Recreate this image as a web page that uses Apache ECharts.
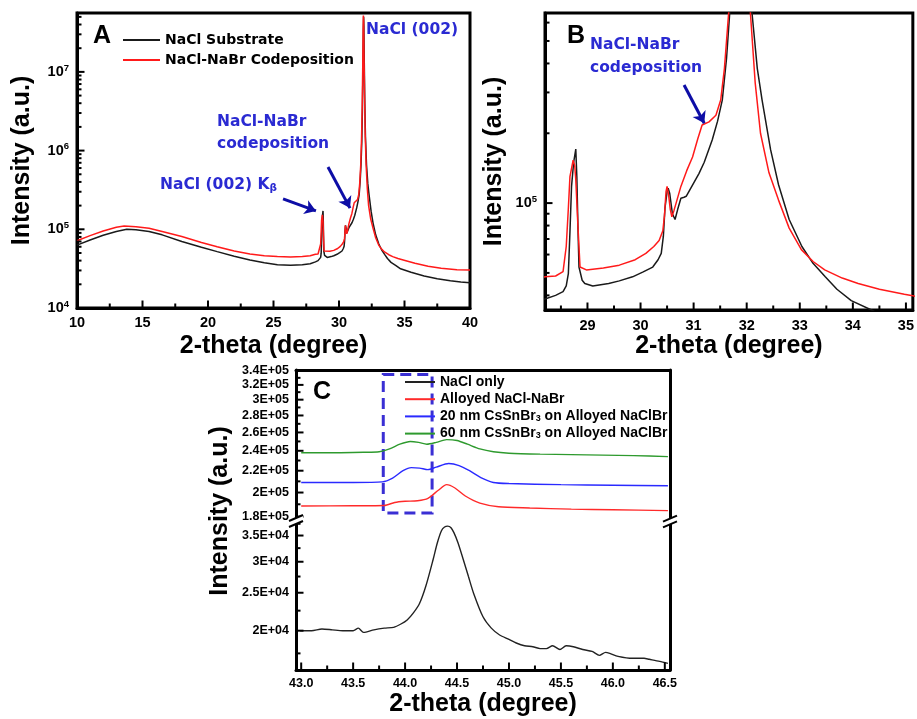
<!DOCTYPE html>
<html>
<head>
<meta charset="utf-8">
<script src="https://cdn.jsdelivr.net/npm/echarts@6/dist/echarts.min.js"></script>
<style>
  html, body { margin: 0; padding: 0; background: #fff; }
  #chart { width: 917px; height: 719px; }
</style>
</head>
<body>
<div id="chart"></div>
<script>
// ---- XRD scans: NaCl substrate vs. NaCl-NaBr codeposition (panels A and B share these) ----
const substrateTheta = [10.0, 11.0, 12.0, 13.0, 13.8, 14.5, 15.5, 16.5, 18.0, 19.5,
  20.7, 22.0, 23.2, 24.3, 25.3, 26.3, 27.2, 27.8, 28.2, 28.4,
  28.54, 28.6, 28.64, 28.67, 28.70, 28.74, 28.78, 28.80, 28.82, 28.84,
  28.9, 28.95, 29.1, 29.25, 29.4, 29.6, 29.85, 30.05, 30.23, 30.33,
  30.39, 30.43, 30.46, 30.50, 30.52, 30.55, 30.60, 30.65, 30.70, 30.76,
  30.82, 30.86, 31.0, 31.1, 31.2, 31.35, 31.45, 31.54, 31.62, 31.68,
  31.74, 31.79, 31.83, 31.86, 31.88, 31.90, 31.93, 31.97, 32.02, 32.10,
  32.20, 32.29, 32.45, 32.6, 32.8, 33.04, 33.25, 33.48, 33.7, 33.97,
  34.35, 34.7, 35.5, 36.5, 37.5, 38.5, 39.3, 40.0];
const substrateCounts = [6.3e4, 7.3e4, 8.4e4, 9.4e4, 1.0e5, 9.9e4, 9.4e4, 8.5e4, 7.0e4, 5.9e4,
  5.2e4, 4.55e4, 4.07e4, 3.75e4, 3.55e4, 3.5e4, 3.55e4, 3.65e4, 3.86e4, 4.0e4,
  4.15e4, 4.4e4, 4.97e4, 7.5e4, 1.18e5, 1.5e5, 1.71e5, 1.3e5, 8.0e4, 5.3e4,
  4.65e4, 4.5e4, 4.39e4, 4.45e4, 4.5e4, 4.62e4, 4.81e4, 5.05e4, 5.3e4, 5.7e4,
  6.07e4, 7.2e4, 9.5e4, 1.12e5, 1.16e5, 1.1e5, 9.0e4, 8.5e4, 9.4e4, 1.05e5,
  1.06e5, 1.07e5, 1.22e5, 1.34e5, 1.5e5, 1.87e5, 2.25e5, 2.78e5, 4.2e5, 6.6e5,
  1.3e6, 3.5e6, 1.2e7, 3.5e7, 5.0e7, 3.8e7, 1.3e7, 4.0e6, 1.5e6, 6.6e5,
  3.8e5, 2.78e5, 1.7e5, 1.2e5, 8.5e4, 6.5e4, 5.5e4, 4.81e4, 4.25e4, 3.8e4,
  3.46e4, 3.15e4, 2.85e4, 2.55e4, 2.35e4, 2.22e4, 2.14e4, 2.1e4];

const codepTheta = [10.0, 11.0, 12.0, 13.0, 13.6, 14.5, 15.5, 16.5, 18.0, 19.5,
  20.7, 22.0, 23.2, 24.3, 25.3, 26.3, 27.2, 27.8, 28.2, 28.4,
  28.54, 28.60, 28.64, 28.67, 28.73, 28.76, 28.78, 28.82, 28.86, 28.98,
  29.3, 29.6, 29.9, 30.1, 30.25, 30.35, 30.42, 30.45, 30.48, 30.50,
  30.53, 30.56, 30.59, 30.63, 30.67, 30.76, 30.87, 30.98, 31.08, 31.16,
  31.29, 31.42, 31.51, 31.58, 31.66, 31.72, 31.77, 31.81, 31.84, 31.86,
  31.88, 31.91, 31.95, 32.0, 32.07, 32.16, 32.26, 32.42, 32.6, 32.8,
  33.03, 33.25, 33.47, 33.8, 34.1, 34.5, 34.97, 35.1, 35.8, 36.8,
  37.8, 39.0, 40.0];
const codepCounts = [7.16e4, 8.3e4, 9.5e4, 1.06e5, 1.1e5, 1.08e5, 1.03e5, 9.4e4, 8.1e4, 6.8e4,
  6.0e4, 5.3e4, 4.85e4, 4.6e4, 4.5e4, 4.45e4, 4.5e4, 4.6e4, 4.81e4, 4.85e4,
  5.06e4, 6.5e4, 9.5e4, 1.3e5, 1.53e5, 1.45e5, 1.26e5, 8.0e4, 5.3e4, 5.15e4,
  5.25e4, 5.4e4, 5.7e4, 6.07e4, 6.5e4, 6.9e4, 7.6e4, 8.8e4, 1.12e5, 1.18e5,
  1.08e5, 9.4e4, 8.73e4, 9.3e4, 1.0e5, 1.18e5, 1.38e5, 1.58e5, 1.9e5, 2.17e5,
  2.24e5, 2.39e5, 2.78e5, 3.8e5, 6.6e5, 1.4e6, 3.5e6, 1.1e7, 3.2e7, 5.2e7,
  4.5e7, 1.6e7, 5.0e6, 1.6e6, 6.6e5, 3.3e5, 2.0e5, 1.35e5, 1.03e5, 7.8e4,
  6.3e4, 5.6e4, 5.15e4, 4.75e4, 4.5e4, 4.25e4, 4.05e4, 4.0e4, 3.7e4, 3.4e4,
  3.2e4, 3.06e4, 3.05e4];

// ---- Panel C: (002) region of the NaCl / NaCl-NaBr / CsSnBr3 stacks ----
const naclOnlyTheta = [42.99, 43.1, 43.2, 43.3, 43.4, 43.5, 43.55, 43.6, 43.7, 43.8,
  43.89, 43.96, 44.02, 44.08, 44.14, 44.2, 44.27, 44.31, 44.35, 44.38, 44.41, 44.44, 44.47,
  44.51, 44.56, 44.61, 44.66, 44.75, 44.83, 44.91, 45.0, 45.07, 45.15,
  45.23, 45.3, 45.36, 45.42, 45.49, 45.55, 45.62, 45.71, 45.8, 45.87,
  45.93, 45.97, 46.05, 46.19, 46.3, 46.35, 46.45, 46.53];
const naclOnlyCounts = [2.0e4, 2.0e4, 2.02e4, 2.01e4, 2.0e4, 2.0e4, 2.03e4, 1.98e4, 2.01e4, 2.03e4,
  2.04e4, 2.08e4, 2.13e4, 2.22e4, 2.35e4, 2.6e4, 3.04e4, 3.35e4, 3.6e4, 3.68e4, 3.70e4, 3.67e4, 3.56e4,
  3.35e4, 3.04e4, 2.75e4, 2.49e4, 2.17e4, 2.03e4, 1.95e4, 1.9e4, 1.86e4, 1.83e4,
  1.82e4, 1.8e4, 1.8e4, 1.83e4, 1.79e4, 1.83e4, 1.82e4, 1.79e4, 1.77e4, 1.73e4,
  1.76e4, 1.75e4, 1.72e4, 1.70e4, 1.70e4, 1.69e4, 1.67e4, 1.65e4];

const alloyedTheta = [43.0, 43.5, 43.8, 43.9, 44.0, 44.12, 44.22, 44.32, 44.4, 44.48,
  44.58, 44.72, 44.9, 45.2, 45.6, 46.0, 46.53];
const alloyedCounts = [1.886e5, 1.888e5, 1.89e5, 1.915e5, 1.925e5, 1.93e5, 1.95e5, 2.02e5, 2.07e5, 2.04e5,
  1.97e5, 1.91e5, 1.88e5, 1.87e5, 1.86e5, 1.855e5, 1.848e5];

const cs20Theta = [43.0, 43.5, 43.78, 43.88, 43.98, 44.06, 44.14, 44.22, 44.3, 44.42,
  44.52, 44.62, 44.74, 44.85, 45.0, 45.5, 46.0, 46.53];
const cs20Counts = [2.09e5, 2.09e5, 2.095e5, 2.13e5, 2.2e5, 2.23e5, 2.225e5, 2.21e5, 2.235e5, 2.27e5,
  2.25e5, 2.2e5, 2.13e5, 2.09e5, 2.08e5, 2.07e5, 2.065e5, 2.06e5];

const cs60Theta = [43.0, 43.3, 43.6, 43.75, 43.85, 43.95, 44.05, 44.13, 44.21, 44.3,
  44.4, 44.5, 44.6, 44.72, 44.85, 45.0, 45.3, 45.6, 45.9, 46.2, 46.53];
const cs60Counts = [2.38e5, 2.38e5, 2.385e5, 2.39e5, 2.42e5, 2.47e5, 2.50e5, 2.49e5, 2.47e5, 2.49e5,
  2.52e5, 2.51e5, 2.47e5, 2.42e5, 2.39e5, 2.375e5, 2.365e5, 2.36e5, 2.355e5, 2.35e5, 2.34e5];

// ---- tick values ----
const aThetaTicks = [10, 15, 20, 25, 30, 35, 40];
const aThetaMinor = [12.5, 17.5, 22.5, 27.5, 32.5, 37.5];
const aLogTicks = [1e4, 1e5, 1e6, 1e7];
const bThetaTicks = [29, 30, 31, 32, 33, 34, 35];
const bThetaMinor = [28.5, 29.5, 30.5, 31.5, 32.5, 33.5, 34.5];
const bLogTicks = [1e5];
const cThetaTicks = [43.0, 43.5, 44.0, 44.5, 45.0, 45.5, 46.0, 46.5];
const cThetaMinor = [43.25, 43.75, 44.25, 44.75, 45.25, 45.75, 46.25];
const cUpperTicks = [1.8e5, 2.0e5, 2.2e5, 2.4e5, 2.6e5, 2.8e5, 3.0e5, 3.2e5, 3.4e5];
const cUpperMinor = [1.9e5, 2.1e5, 2.3e5, 2.5e5, 2.7e5, 2.9e5, 3.1e5, 3.3e5];
const cLowerTicks = [2.0e4, 2.5e4, 3.0e4, 3.5e4];
const cLowerMinor = [1.75e4, 2.25e4, 2.75e4, 3.25e4, 3.75e4];

// log minor ticks (2..9 within each decade) inside a range
function logMinor(lo, hi) {
  const out = [];
  for (let e = Math.floor(Math.log10(lo)); e <= Math.ceil(Math.log10(hi)); e++) {
    for (let k = 2; k <= 9; k++) {
      const v = k * Math.pow(10, e);
      if (v > lo && v < hi) out.push(v);
    }
  }
  return out;
}

const zip = (xs, ys) => xs.map((x, i) => [x, ys[i]]);

const FT = '"Liberation Sans", Arial, Helvetica, sans-serif';
const FD = '"DejaVu Sans", sans-serif';
const BLUE_TXT = '#2a2ad2';
const ARROW = '#0d0da6';

const A_X = [10, 40];
const A_Y = [1e4, 5.6e7];
const B_X = [28.2, 35.13];
const B_Y = [3.46e4, 6.6e5];
const C_X = [42.95, 46.55];
const C_UP = [1.774e5, 3.415e5];
const C_LO = [1.587e4, 3.79e4];

const frameLine = { show: true, onZero: false, lineStyle: { color: '#000', width: 3 } };
const noTick = { show: false };

function supLabel(v) {
  const e = Math.round(Math.log10(v));
  return '{b|10}{s|' + e + '}';
}
const supRich = {
  b: { fontFamily: FT, fontWeight: 'bold', fontSize: 14.5, color: '#000' },
  s: { fontFamily: FT, fontWeight: 'bold', fontSize: 9.5, color: '#000', padding: [0, 0, 8, 0] }
};
const cLabel = v => {
  const e = Math.floor(Math.log10(v) + 1e-9);
  const m = v / Math.pow(10, e);
  const ms = Math.abs(m - Math.round(m)) < 1e-9 ? String(Math.round(m)) : m.toFixed(1);
  return ms + 'E+0' + e;
};

const titleFont = { fontFamily: FT, fontWeight: 'bold', fontSize: 25, color: '#000' };
const tickFont = { fontFamily: FT, fontWeight: 'bold', fontSize: 14.5, color: '#000' };
const cTickFont = { fontFamily: FT, fontWeight: 'bold', fontSize: 12.5, color: '#000' };

// fixed decorations: panel letters, peak annotations, axis-break marks
const decorations = [
  { type: 'text', x: 93, y: 36, style: { text: 'A', font: 'bold 25px ' + FT, fill: '#000', textVerticalAlign: 'middle' } },
  { type: 'text', x: 567, y: 36, style: { text: 'B', font: 'bold 25px ' + FT, fill: '#000', textVerticalAlign: 'middle' } },
  { type: 'text', x: 313, y: 392, style: { text: 'C', font: 'bold 25px ' + FT, fill: '#000', textVerticalAlign: 'middle' } },
  { type: 'text', x: 366, y: 30, style: { text: 'NaCl (002)', font: 'bold 15.5px ' + FD, fill: BLUE_TXT, textVerticalAlign: 'middle' } },
  { type: 'text', x: 217, y: 122, style: { text: 'NaCl-NaBr', font: 'bold 15.5px ' + FD, fill: BLUE_TXT, textVerticalAlign: 'middle' } },
  { type: 'text', x: 217, y: 144, style: { text: 'codeposition', font: 'bold 15.5px ' + FD, fill: BLUE_TXT, textVerticalAlign: 'middle' } },
  { type: 'text', x: 160, y: 185, style: {
      text: '{n|NaCl (002) K}{s|β}', textVerticalAlign: 'middle',
      rich: {
        n: { fontFamily: FD, fontWeight: 'bold', fontSize: 15.5, fill: BLUE_TXT },
        s: { fontFamily: FD, fontWeight: 'bold', fontSize: 10.5, fill: BLUE_TXT, padding: [7, 0, 0, 0] }
      } } },
  { type: 'text', x: 590, y: 45, style: { text: 'NaCl-NaBr', font: 'bold 15.5px ' + FD, fill: BLUE_TXT, textVerticalAlign: 'middle' } },
  { type: 'text', x: 590, y: 68, style: { text: 'codeposition', font: 'bold 15.5px ' + FD, fill: BLUE_TXT, textVerticalAlign: 'middle' } },
  { type: 'text', x: 220, y: 511, rotation: Math.PI / 2,
    style: { text: 'Intensity (a.u.)', font: 'bold 25px ' + FT, fill: '#000', textAlign: 'center', textVerticalAlign: 'middle' } },
  { type: 'polygon', shape: { points: [[289, 521], [303, 515], [303, 521], [289, 527]] }, style: { fill: '#fff' }, z: 100 },
  { type: 'line', shape: { x1: 289, y1: 521, x2: 303, y2: 515 }, style: { stroke: '#000', lineWidth: 2 }, z: 101 },
  { type: 'line', shape: { x1: 289, y1: 527, x2: 303, y2: 521 }, style: { stroke: '#000', lineWidth: 2 }, z: 101 },
  { type: 'polygon', shape: { points: [[663, 521.7], [677, 515.7], [677, 521.3], [663, 527.3]] }, style: { fill: '#fff' }, z: 100 },
  { type: 'line', shape: { x1: 663, y1: 521.7, x2: 677, y2: 515.7 }, style: { stroke: '#000', lineWidth: 2 }, z: 101 },
  { type: 'line', shape: { x1: 663, y1: 527.3, x2: 677, y2: 521.3 }, style: { stroke: '#000', lineWidth: 2 }, z: 101 }
];

const option = {
  animation: false,
  backgroundColor: '#fff',
  grid: [
    { left: 77, top: 13, width: 393, height: 295, show: true, borderColor: '#000', borderWidth: 3 },
    { left: 545, top: 13, width: 370, height: 297, show: true, borderColor: '#000', borderWidth: 3 },
    { left: 296, top: 370, width: 374, height: 150 },
    { left: 296, top: 522, width: 374, height: 148 }
  ],
  xAxis: [
    { type: 'value', gridIndex: 0, min: A_X[0], max: A_X[1], interval: 5,
      axisLine: frameLine, splitLine: { show: false }, axisTick: noTick,
      axisLabel: Object.assign({ show: true, margin: 7 }, tickFont),
      name: '2-theta (degree)', nameLocation: 'middle', nameGap: 26, nameTextStyle: titleFont },
    { type: 'value', gridIndex: 1, min: B_X[0], max: B_X[1],
      axisLine: frameLine, splitLine: { show: false }, axisTick: noTick,
      axisLabel: Object.assign({ show: true, interval: 0, customValues: bThetaTicks, margin: 8 }, tickFont),
      name: '2-theta (degree)', nameLocation: 'middle', nameGap: 24, nameTextStyle: titleFont },
    { type: 'value', gridIndex: 2, position: 'top', min: C_X[0], max: C_X[1],
      axisLine: frameLine, splitLine: { show: false }, axisLabel: { show: false }, axisTick: noTick },
    { type: 'value', gridIndex: 3, position: 'bottom', min: C_X[0], max: C_X[1],
      axisLine: frameLine, splitLine: { show: false }, axisTick: noTick,
      axisLabel: Object.assign({ show: true, interval: 0, customValues: cThetaTicks, margin: 7, formatter: v => v.toFixed(1) }, cTickFont),
      name: '2-theta (degree)', nameLocation: 'middle', nameGap: 22, nameTextStyle: titleFont }
  ],
  yAxis: [
    { type: 'log', logBase: 10, gridIndex: 0, min: A_Y[0], max: A_Y[1],
      axisLine: frameLine, splitLine: { show: false }, axisTick: noTick,
      axisLabel: { show: true, interval: 0, customValues: aLogTicks, formatter: supLabel, rich: supRich, margin: 8 },
      name: 'Intensity (a.u.)', nameLocation: 'middle', nameGap: 42, nameTextStyle: titleFont },
    { type: 'log', logBase: 10, gridIndex: 1, min: B_Y[0], max: B_Y[1],
      axisLine: frameLine, splitLine: { show: false }, axisTick: noTick,
      axisLabel: { show: true, interval: 0, customValues: bLogTicks, formatter: supLabel, rich: supRich, margin: 8 },
      name: 'Intensity (a.u.)', nameLocation: 'middle', nameGap: 38, nameTextStyle: titleFont },
    { type: 'log', logBase: 10, gridIndex: 2, position: 'left', min: C_UP[0], max: C_UP[1],
      axisLine: frameLine, splitLine: { show: false }, axisTick: noTick,
      axisLabel: Object.assign({ show: true, interval: 0, customValues: cUpperTicks, formatter: cLabel, margin: 7 }, cTickFont) },
    { type: 'log', logBase: 10, gridIndex: 2, position: 'right', min: C_UP[0], max: C_UP[1],
      axisLine: frameLine, splitLine: { show: false }, axisLabel: { show: false }, axisTick: noTick },
    { type: 'log', logBase: 10, gridIndex: 3, position: 'left', min: C_LO[0], max: C_LO[1],
      axisLine: frameLine, splitLine: { show: false }, axisTick: noTick,
      axisLabel: Object.assign({ show: true, interval: 0, customValues: cLowerTicks, formatter: cLabel, margin: 7 }, cTickFont) },
    { type: 'log', logBase: 10, gridIndex: 3, position: 'right', min: C_LO[0], max: C_LO[1],
      axisLine: frameLine, splitLine: { show: false }, axisLabel: { show: false }, axisTick: noTick }
  ],
  legend: [
    { data: ['NaCl Substrate', 'NaCl-NaBr Codeposition'], orient: 'vertical', left: 118, top: 28,
      icon: 'rect', itemWidth: 37, itemHeight: 2, itemGap: 6, selectedMode: false,
      textStyle: { fontFamily: FD, fontWeight: 'bold', fontSize: 14, color: '#000' } },
    { data: ['NaCl only', 'Alloyed NaCl-NaBr', '20 nm CsSnBr3 on Alloyed NaClBr', '60 nm CsSnBr3 on Alloyed NaClBr'],
      orient: 'vertical', left: 400, top: 370, icon: 'rect', itemWidth: 30, itemHeight: 2, itemGap: 3.2,
      selectedMode: false,
      formatter: name => name.replace('CsSnBr3', 'CsSnBr{sub|3}'),
      textStyle: { fontFamily: FT, fontWeight: 'bold', fontSize: 14, color: '#000',
        rich: { sub: { fontFamily: FT, fontWeight: 'bold', fontSize: 9, color: '#000', padding: [4, 0, 0, 0] } } } }
  ],
  series: [
    { name: 'NaCl Substrate', type: 'line', xAxisIndex: 0, yAxisIndex: 0, data: zip(substrateTheta, substrateCounts),
      showSymbol: false, symbol: 'none', color: '#1a1a1a', lineStyle: { width: 1.5, color: '#1a1a1a' },
      emphasis: { disabled: true },
      markLine: { silent: true, symbol: ['none', 'arrow'], symbolSize: 11, label: { show: false },
        emphasis: { disabled: true }, lineStyle: { color: ARROW, width: 3, type: 'solid' },
        data: [
          [{ coord: [25.73, 2.43e5] }, { coord: [28.24, 1.71e5] }],
          [{ coord: [29.16, 6.2e5] }, { coord: [30.84, 1.86e5] }]
        ] } },
    { name: 'NaCl-NaBr Codeposition', type: 'line', xAxisIndex: 0, yAxisIndex: 0, data: zip(codepTheta, codepCounts),
      showSymbol: false, symbol: 'none', color: '#ff1a1a', lineStyle: { width: 1.5, color: '#ff1a1a' },
      emphasis: { disabled: true } },
    { name: 'NaCl Substrate', type: 'line', xAxisIndex: 1, yAxisIndex: 1, data: zip(substrateTheta, substrateCounts),
      showSymbol: false, symbol: 'none', color: '#1a1a1a', lineStyle: { width: 1.5, color: '#1a1a1a' },
      emphasis: { disabled: true }, clip: true },
    { name: 'NaCl-NaBr Codeposition', type: 'line', xAxisIndex: 1, yAxisIndex: 1, data: zip(codepTheta, codepCounts),
      showSymbol: false, symbol: 'none', color: '#ff1a1a', lineStyle: { width: 1.5, color: '#ff1a1a' },
      emphasis: { disabled: true }, clip: true,
      markLine: { silent: true, symbol: ['none', 'arrow'], symbolSize: 11, label: { show: false },
        emphasis: { disabled: true }, lineStyle: { color: ARROW, width: 3, type: 'solid' },
        data: [[{ coord: [30.82, 3.23e5] }, { coord: [31.2, 2.21e5] }]] } },
    { name: 'NaCl only', type: 'line', xAxisIndex: 3, yAxisIndex: 4, data: zip(naclOnlyTheta, naclOnlyCounts),
      showSymbol: false, symbol: 'none', color: '#222', lineStyle: { width: 1.4, color: '#222' },
      smooth: 0.25, emphasis: { disabled: true } },
    { name: 'Alloyed NaCl-NaBr', type: 'line', xAxisIndex: 2, yAxisIndex: 2, data: zip(alloyedTheta, alloyedCounts),
      showSymbol: false, symbol: 'none', color: '#ff2a2a', lineStyle: { width: 1.4, color: '#ff2a2a' },
      smooth: 0.25, emphasis: { disabled: true },
      markArea: { silent: true, emphasis: { disabled: true },
        itemStyle: { color: 'rgba(0,0,0,0)', borderColor: '#3a2fd4', borderWidth: 3, borderType: [11, 6] },
        data: [[{ xAxis: 43.79, yAxis: 3.35e5 }, { xAxis: 44.26, yAxis: 1.83e5 }]] } },
    { name: '20 nm CsSnBr3 on Alloyed NaClBr', type: 'line', xAxisIndex: 2, yAxisIndex: 2, data: zip(cs20Theta, cs20Counts),
      showSymbol: false, symbol: 'none', color: '#2a2aff', lineStyle: { width: 1.4, color: '#2a2aff' },
      smooth: 0.25, emphasis: { disabled: true } },
    { name: '60 nm CsSnBr3 on Alloyed NaClBr', type: 'line', xAxisIndex: 2, yAxisIndex: 2, data: zip(cs60Theta, cs60Counts),
      showSymbol: false, symbol: 'none', color: '#2e9a2e', lineStyle: { width: 1.4, color: '#2e9a2e' },
      smooth: 0.25, emphasis: { disabled: true } }
  ],
  graphic: { elements: decorations }
};

const chart = echarts.init(document.getElementById('chart'), null, { renderer: 'canvas' });
chart.setOption(option);

// inward tick marks, placed through each axis pair's own scale
function tickLines(finder, xMin, yMin, xMajor, xMinor, yMajor, yMinor) {
  const out = [];
  const push = (v, isX, len) => {
    const p = chart.convertToPixel(finder, isX ? [v, yMin] : [xMin, v]);
    if (!p || !isFinite(p[0]) || !isFinite(p[1])) return;
    const shape = isX
      ? { x1: p[0], y1: p[1], x2: p[0], y2: p[1] - len }
      : { x1: p[0], y1: p[1], x2: p[0] + len, y2: p[1] };
    out.push({ type: 'line', shape: shape, style: { stroke: '#000', lineWidth: 2 }, z: 90, silent: true });
  };
  xMajor.forEach(v => push(v, true, 7.5));
  xMinor.forEach(v => push(v, true, 4.5));
  yMajor.forEach(v => push(v, false, 7.5));
  yMinor.forEach(v => push(v, false, 4.5));
  return out;
}

const ticks = [].concat(
  tickLines({ xAxisIndex: 0, yAxisIndex: 0 }, A_X[0], A_Y[0], aThetaTicks, aThetaMinor, aLogTicks, logMinor(A_Y[0], A_Y[1])),
  tickLines({ xAxisIndex: 1, yAxisIndex: 1 }, B_X[0], B_Y[0], bThetaTicks, bThetaMinor, bLogTicks, logMinor(B_Y[0], B_Y[1])),
  tickLines({ xAxisIndex: 2, yAxisIndex: 2 }, C_X[0], C_UP[0], [], [], cUpperTicks, cUpperMinor),
  tickLines({ xAxisIndex: 3, yAxisIndex: 4 }, C_X[0], C_LO[0], cThetaTicks, cThetaMinor, cLowerTicks, cLowerMinor)
);

chart.setOption({ graphic: { elements: decorations.concat(ticks) } });
</script>
</body>
</html>
